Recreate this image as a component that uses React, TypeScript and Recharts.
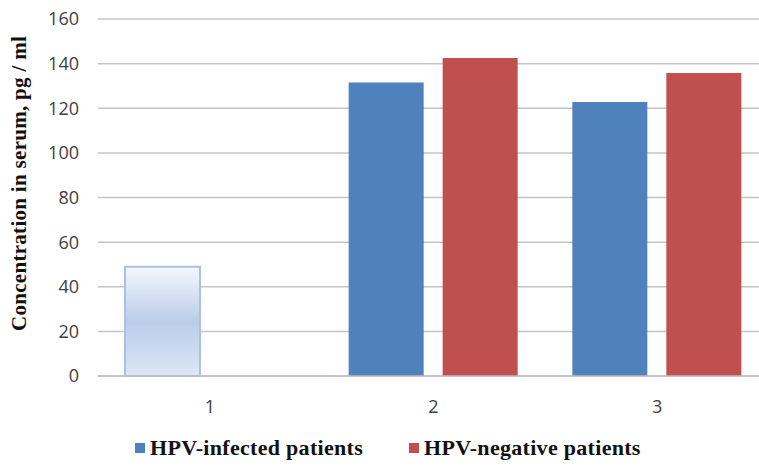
import { BarChart, Bar, XAxis, YAxis, CartesianGrid, Legend, Cell } from "recharts";

const categories = ["1", "2", "3"];
const infected = [49, 131.5, 122.8];
const negative = [null, 142.5, 135.8];
const yTicks = [0, 20, 40, 60, 80, 100, 120, 140, 160];

const chartData = categories.map((c, i) => ({
  name: c,
  infected: infected[i],
  negative: negative[i],
}));

const BLUE = "#4f81bd";
const RED = "#c0504d";

function LegendContent() {
  const items = [
    { label: "HPV-infected patients", color: BLUE },
    { label: "HPV-negative patients", color: RED },
  ];
  return (
    <div style={{ display: "flex", justifyContent: "flex-start", alignItems: "center", height: 40, paddingLeft: 135, gap: 46 }}>
      {items.map((it) => (
        <div key={it.label} style={{ display: "flex", alignItems: "center" }}>
          <span style={{ width: 10, height: 10, background: it.color, display: "inline-block", marginRight: 5 }} />
          <span style={{ fontFamily: "Liberation Serif", fontWeight: "bold", fontSize: 22, letterSpacing: 0.3, color: "#111" }}>
            {it.label}
          </span>
        </div>
      ))}
    </div>
  );
}

export default function App() {
  return (
    <div style={{ position: "absolute", left: 0, top: 0, width: 759, height: 468, background: "#fff" }}>
      <BarChart
        width={759}
        height={468}
        data={chartData}
        margin={{ top: 19, right: -10, bottom: 0, left: 0 }}
        barSize={75}
        barGap={19}
      >
        <defs>
          <linearGradient id="fadeBlue" x1="0" y1="0" x2="0" y2="1">
            <stop offset="0%" stopColor="#f4f7fc" />
            <stop offset="50%" stopColor="#bacde9" />
            <stop offset="100%" stopColor="#dde6f4" />
          </linearGradient>
        </defs>
        <CartesianGrid vertical={false} stroke="#c4c4c4" strokeWidth={1.5} />
        <XAxis
          dataKey="name"
          tickLine={false}
          axisLine={{ stroke: "#bfbfbf", strokeWidth: 1.5 }}
          tick={{ fontSize: 18, fill: "#404040", fontFamily: "Open Sans" }}
          tickMargin={18}
          height={52}
        />
        <YAxis
          domain={[0, 160]}
          ticks={yTicks}
          axisLine={false}
          tickLine={false}
          width={98}
          tickMargin={13}
          tick={{ fontSize: 18, fill: "#404040", fontFamily: "Open Sans" }}
          label={{
            value: "Concentration in serum, pg / ml",
            angle: -90,
            position: "insideLeft",
            dx: 14,
            dy: -14,
            style: { textAnchor: "middle", fontFamily: "Liberation Serif", fontWeight: "bold", fontSize: 21, letterSpacing: 0.3, fill: "#111" },
          }}
        />
        <Legend verticalAlign="bottom" height={40} content={<LegendContent />} />
        <Bar dataKey="infected" name="HPV-infected patients" fill={BLUE} isAnimationActive={false}>
          {chartData.map((d, i) => (
            <Cell
              key={d.name}
              fill={i === 0 ? "url(#fadeBlue)" : BLUE}
              stroke={i === 0 ? "#a9c1e6" : "none"}
              strokeWidth={i === 0 ? 2 : 0}
            />
          ))}
        </Bar>
        <Bar dataKey="negative" name="HPV-negative patients" fill={RED} isAnimationActive={false} />
      </BarChart>
    </div>
  );
}
